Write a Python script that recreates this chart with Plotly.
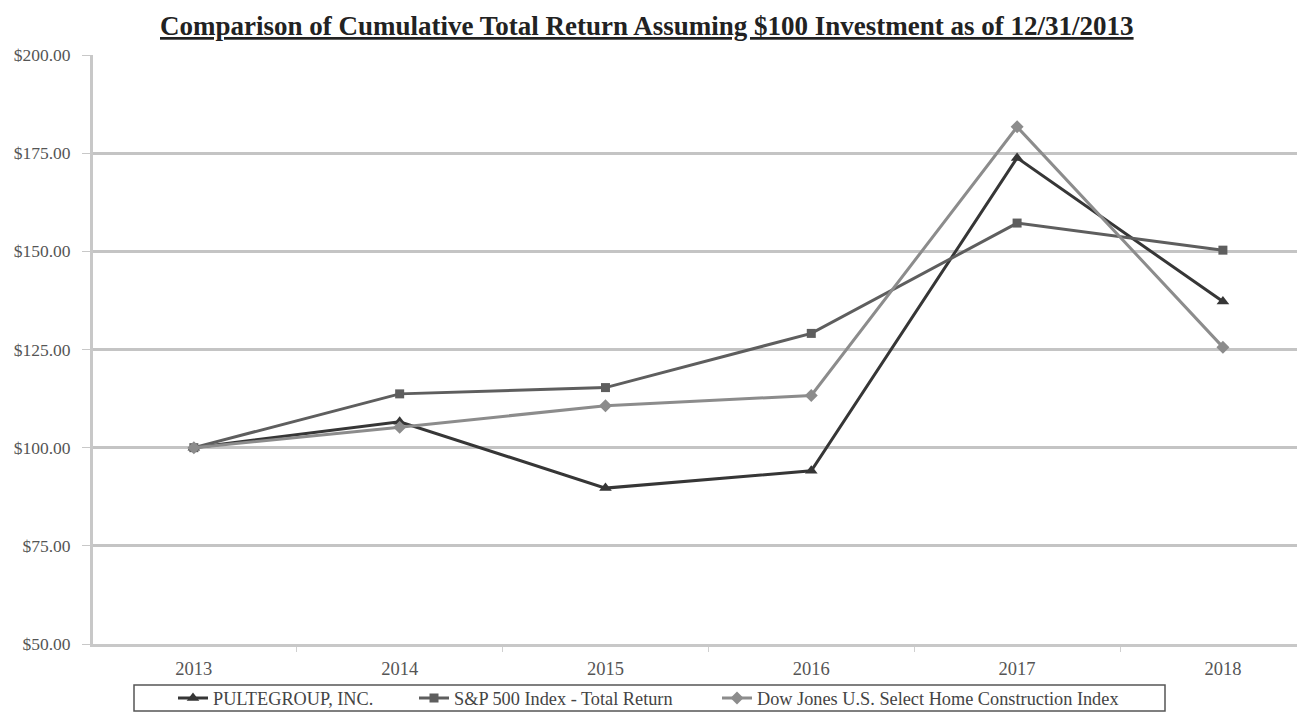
import plotly.graph_objects as go

years = ["2013", "2014", "2015", "2016", "2017", "2018"]
pulte = [100.00, 106.6, 89.7, 94.1, 173.8, 137.2]
sp500 = [100.00, 113.7, 115.3, 129.1, 157.2, 150.3]
dowjones = [100.00, 105.2, 110.7, 113.3, 181.7, 125.6]
yticks = [50, 75, 100, 125, 150, 175, 200]
ytick_labels = ["$50.00", "$75.00", "$100.00", "$125.00", "$150.00", "$175.00", "$200.00"]

FONT = "Liberation Serif, Times New Roman, serif"

# pixel geometry helpers (plot area: x 93..1297, y 55..644)
L, W, T, H = 93, 1204, 55, 589
px = lambda x: (x - L) / W
py = lambda y: (T + H - y) / H

fig = go.Figure()
fig.add_trace(go.Scatter(x=years, y=pulte, name="PULTEGROUP, INC.", mode="lines+markers",
                         line=dict(color="#363636", width=3),
                         marker=dict(symbol="triangle-up", size=11, color="#363636"),
                         legend="legend"))
fig.add_trace(go.Scatter(x=years, y=sp500, name="S&P 500 Index - Total Return", mode="lines+markers",
                         line=dict(color="#5e5e5e", width=3),
                         marker=dict(symbol="square", size=9, color="#5e5e5e"),
                         legend="legend2"))
fig.add_trace(go.Scatter(x=years, y=dowjones, name="Dow Jones U.S. Select Home Construction Index", mode="lines+markers",
                         line=dict(color="#8c8c8c", width=3),
                         marker=dict(symbol="diamond", size=10, color="#8c8c8c"),
                         legend="legend3"))

leg_common = dict(orientation="h", yanchor="middle", xanchor="left", y=py(698),
                  bgcolor="rgba(0,0,0,0)", borderwidth=0,
                  font=dict(family=FONT, size=18.3, color="#444444"), itemwidth=30)

fig.update_layout(
    width=1300, height=713,
    margin=dict(l=93, r=3, t=55, b=69, autoexpand=False),
    paper_bgcolor="white", plot_bgcolor="white",
    font=dict(family=FONT, size=17, color="#444444"),
    showlegend=True,
    legend=dict(x=px(173), **leg_common),
    legend2=dict(x=px(414), **leg_common),
    legend3=dict(x=px(717), **leg_common),
    shapes=[dict(type="rect", xref="paper", yref="paper",
                 x0=px(134), x1=px(1165), y0=py(685), y1=py(711),
                 line=dict(color="#555555", width=1.5), fillcolor="rgba(0,0,0,0)", layer="below")],
    xaxis=dict(type="category", range=[-0.49, 5.36], showgrid=False,
               showline=True, linecolor="#c8c8c8", linewidth=3,
               ticks="outside", tickson="boundaries", ticklen=5, tickcolor="#d0d0d0",
               ticklabelstandoff=6,
               tickfont=dict(family=FONT, size=18.5, color="#555555"),
               fixedrange=True),
    yaxis=dict(range=[50, 200], tickvals=yticks, ticktext=ytick_labels,
               showgrid=True, gridcolor="#c4c4c4", gridwidth=2.5,
               showline=True, linecolor="#c8c8c8", linewidth=3,
               ticks="outside", ticklen=8, tickcolor="#c8c8c8",
               ticklabelstandoff=8,
               tickfont=dict(family=FONT, size=17.5, color="#555555"),
               zeroline=False),
    annotations=[dict(text="<b><u>Comparison of Cumulative Total Return Assuming $100 Investment as of 12/31/2013</u></b>",
                      x=px(647), y=1.0, xref="paper", yref="paper", xanchor="center", yanchor="bottom",
                      yshift=12, showarrow=False, font=dict(family=FONT, size=27, color="#222222"))],
)

fig.write_html("out.html")
